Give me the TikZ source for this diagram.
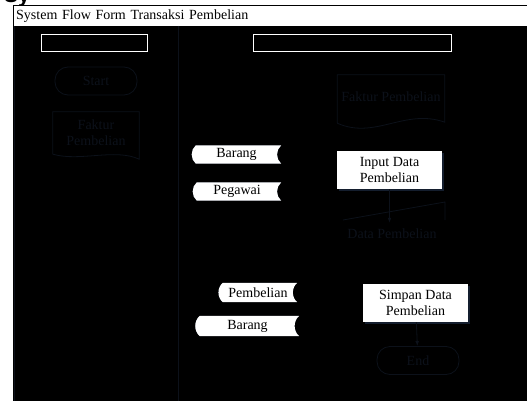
\documentclass[tikz,border=0pt]{standalone}
\usepackage{fontspec}
\setmainfont{Liberation Serif}
\newfontfamily\headsans{Liberation Sans}
\usetikzlibrary{positioning,backgrounds,shadows,arrows.meta}

\definecolor{faint}{RGB}{12,17,26}
\definecolor{glow}{RGB}{20,30,46}

% outline of a stored-data symbol round a node
\newcommand\storeoutline[1]{([xshift=4pt]#1.north west) -- (#1.north east)
  to[bend right=50] (#1.south east) -- ([xshift=4pt]#1.south west)
  to[bend left=50] ([xshift=4pt]#1.north west) -- cycle}

\begin{document}
\begin{tikzpicture}[
        x=1pt, y=-1pt,
        font=\fontsize{14}{16}\selectfont,
        lanehead/.style={draw=white, line width=0.9pt, fill=black, minimum height=17pt, inner sep=0pt},
        proc/.style={fill=white, text=black, align=center, minimum width=105pt, minimum height=38pt, inner sep=2pt,
            drop shadow={shadow xshift=1.5pt, shadow yshift=-1.5pt, fill=glow, opacity=1}},
        store/.style={text=black, minimum height=18pt, inner sep=0pt},
        ghost/.style={draw=faint, text=faint, line width=0.8pt},
        term/.style={ghost, rounded corners=13pt, minimum width=82pt, minimum height=28pt},
        link/.style={draw=faint, line width=0.8pt, -{Latex[length=5pt]}}
    ]
        \useasboundingbox (0,0) rectangle (527,401);
        \clip (0,0) rectangle (527,401);

        % heading above the form, cut by the page edge
        \node[anchor=base west, inner sep=0pt, font=\headsans\bfseries\fontsize{21}{21}\selectfont] (kepala) at (4,3) {Sy};

        % form frame and lanes
        \node[draw=black, line width=0.4pt, fill=white, anchor=north west, minimum width=514pt, minimum height=21pt,
            text width=508pt, inner xsep=3pt, align=left] (judul) at (13,5) {System Flow Form Transaksi Pembelian};
        \draw[faint, line width=0.8pt] (178,26) -- (178,401);
        \draw[faint, line width=0.8pt] (14,26) -- (14,401);

        \node[lanehead, minimum width=106pt] (laneA) at (94,42.5) {};
        \node[lanehead, minimum width=198pt] (laneB) at (352,42.5) {};

        % first lane
        \node[term] (mulai) at (96,81) {Start};
        \node[text=faint, align=center, minimum width=86pt, minimum height=42pt] (fakturA) at (96,133) {Faktur\\Pembelian};
        \draw[faint, line width=0.8pt] (fakturA.south west) -- (fakturA.north west) -- (fakturA.north east) -- ([yshift=-5pt]fakturA.south east)
            .. controls (115,148) and (80,162) .. (fakturA.south west);

        % second lane
        \node[text=faint, minimum width=107pt, minimum height=44pt] (fakturB) at (391,97) {Faktur Pembelian};
        \draw[faint, line width=0.8pt] ([yshift=-4pt]fakturB.south west) -- (fakturB.north west) -- (fakturB.north east) -- ([yshift=-3pt]fakturB.south east)
            .. controls (405,108) and (375,140) .. ([yshift=-4pt]fakturB.south west);

        \node[proc] (input) at (389.5,170) {Input Data\\Pembelian};

        \node[text=faint, minimum width=102pt, minimum height=22pt] (dataB) at (392,234) {Data Pembelian};
        \draw[faint, line width=0.8pt] (343,220) -- (445,202) -- (445,220);

        \node[proc] (simpan) at (415.5,303) {Simpan Data\\Pembelian};
        \node[term] (akhir) at (418,360.5) {End};

        % stored data
        \node[store, minimum width=89pt] (barangA) at (236.5,154.5) {Barang};
        \node[store, minimum width=88pt] (pegawai) at (237,191.5) {Pegawai};
        \node[store, minimum width=78pt, minimum height=19pt] (pembelian) at (258,292.5) {Pembelian};
        \node[store, minimum width=103pt, minimum height=20pt] (barangB) at (247.5,326) {Barang};

        \begin{scope}[on background layer]
            \fill[black] (13,26) rectangle (527,401);
            \foreach \s in {barangA, pegawai, pembelian, barangB} {
                \fill[glow, xshift=1.5pt, yshift=-2pt] \storeoutline{\s};
                \fill[white] \storeoutline{\s};
            }
        \end{scope}

        \draw[link] (input) -- (input |- dataB.north);
        \draw[link] (simpan) -- (akhir);
    \end{tikzpicture}
\end{document}
